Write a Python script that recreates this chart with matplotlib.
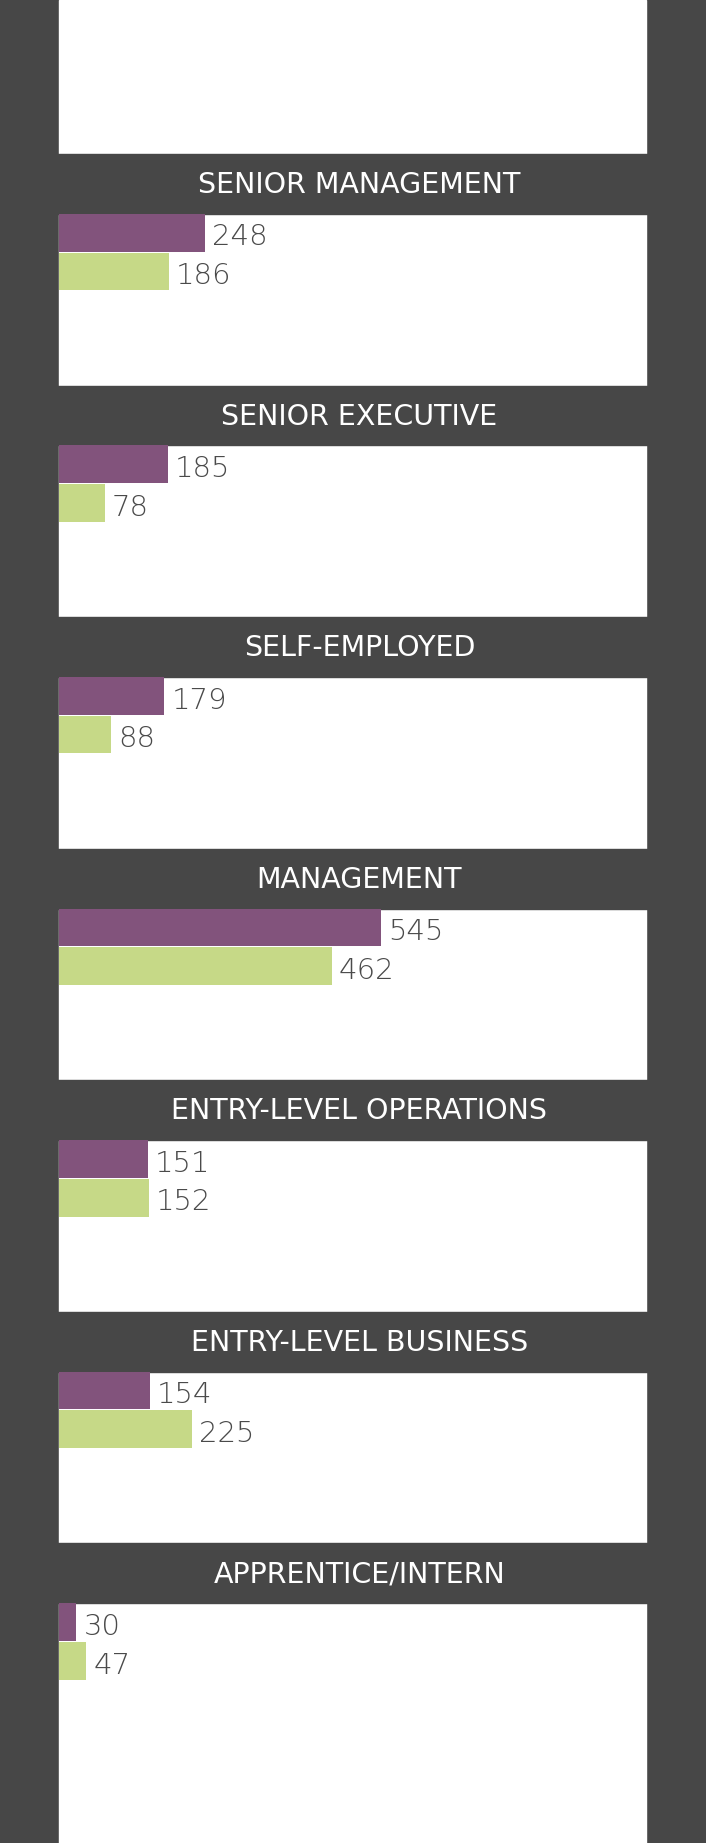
import matplotlib
matplotlib.use("Agg")
import matplotlib.pyplot as plt
from matplotlib.patches import Rectangle

categories = ["SENIOR MANAGEMENT", "SENIOR EXECUTIVE", "SELF-EMPLOYED", "MANAGEMENT",
              "ENTRY-LEVEL OPERATIONS", "ENTRY-LEVEL BUSINESS", "APPRENTICE/INTERN"]
purple_vals = [248, 185, 179, 545, 151, 154, 30]
green_vals = [186, 78, 88, 462, 152, 225, 47]

DARK = "#474747"
PURPLE = "#82537c"
GREEN = "#c6d987"

W, H = 601, 1568          # layout units (reference proportions)
ppu = 274 / 545           # pixels per value unit
fig = plt.figure(figsize=(7.06, 18.43), dpi=100)
ax = fig.add_axes([0, 0, 1, 1])
x0 = -50 / ppu
x1 = (W - 50) / ppu
ax.set_xlim(x0, x1)
ax.set_ylim(H, 0)
ax.axis("off")
fig.patch.set_facecolor(DARK)
ax.add_patch(Rectangle((0, 0), 500 / ppu, H, color="white", zorder=0))

band_top0, period, band_h, bar_h = 131, 197, 51, 32
for i, cat in enumerate(categories):
    bt = band_top0 + i * period
    ax.add_patch(Rectangle((x0, bt), x1 - x0, band_h, color=DARK, zorder=1))
    ax.text((306 - 50) / ppu, bt + band_h / 2 + 1, cat, color="white", fontsize=20.5,
            family="DejaVu Sans", ha="center", va="center", zorder=3)
    top = bt + band_h
    ax.barh(top + bar_h / 2, purple_vals[i], height=bar_h, left=0, color=PURPLE, zorder=2)
    ax.barh(top + bar_h * 1.5 + 1, green_vals[i], height=bar_h, left=0, color=GREEN, zorder=2)
    ax.text(purple_vals[i] + 12, top + bar_h / 2 + 4, str(purple_vals[i]), fontsize=21,
            family="DejaVu Sans", fontweight="light", color="#4a4a4a", va="center", zorder=3)
    ax.text(green_vals[i] + 12, top + bar_h * 1.5 + 5, str(green_vals[i]), fontsize=21,
            family="DejaVu Sans", fontweight="light", color="#4a4a4a", va="center", zorder=3)

fig.savefig("out.png", dpi=100, facecolor=DARK)
